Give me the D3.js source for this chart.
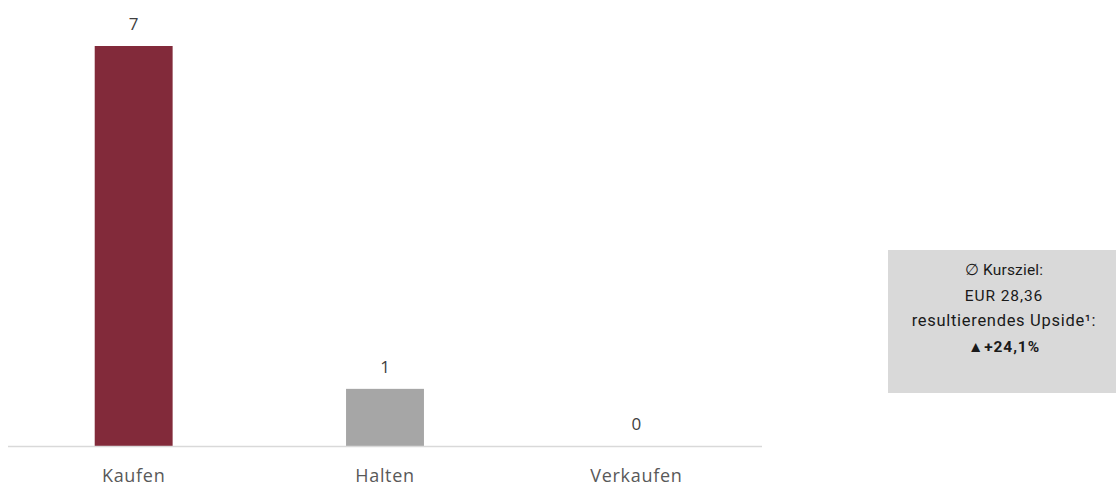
<!DOCTYPE html>
<html>
<head>
<meta charset="utf-8">
<script src="https://cdn.jsdelivr.net/npm/d3@7"></script>
<style>
  body { margin: 0; background: #fff; }
  svg { display: block; }
</style>
</head>
<body>
<div id="chart"></div>
<script>
// chart data
var categories = ["Kaufen", "Halten", "Verkaufen"];
var counts = [7, 1, 0];
var barColors = ["#822a3a", "#a6a6a6", "#a6a6a6"];
var infoLines = ["\u2205 Kursziel:", "EUR 28,36", "resultierendes Upside\u00b9:", "\u25b2+24,1%"];

var W = 1116, H = 487;
var margin = {top: 46, left: 8, right: 354, bottom: 41};
var width = W - margin.left - margin.right,
    height = H - margin.top - margin.bottom;

var svg = d3.select("#chart")
  .append("svg")
    .attr("width", W)
    .attr("height", H);

var g = svg.append("g")
  .attr("transform", "translate(" + margin.left + "," + margin.top + ")");

var x = d3.scaleBand()
  .domain(categories)
  .range([0, width])
  .paddingInner(0.69)
  .paddingOuter(0.345);

var y = d3.scaleLinear()
  .domain([0, 7])
  .range([height, 0]);

// bars
g.selectAll("rect.bar")
  .data(counts)
  .enter()
  .append("rect")
  .attr("class", "bar")
  .attr("x", (d, i) => x(categories[i]))
  .attr("y", d => y(d))
  .attr("width", x.bandwidth())
  .attr("height", d => height - y(d))
  .style("fill", (d, i) => barColors[i]);

// baseline
g.append("line")
  .attr("x1", 0).attr("x2", width)
  .attr("y1", height + 0.5).attr("y2", height + 0.5)
  .style("stroke", "#d9d9d9")
  .style("stroke-width", 1.5);

// value labels
g.selectAll("text.val")
  .data(counts)
  .enter()
  .append("text")
  .attr("class", "val")
  .attr("x", (d, i) => x(categories[i]) + x.bandwidth() / 2)
  .attr("y", d => y(d) - 16)
  .attr("text-anchor", "middle")
  .style("font-family", "'Open Sans', sans-serif")
  .style("font-size", "17px")
  .style("fill", "#404040")
  .text(d => d);

// category labels
var xAxis = g.append("g")
  .attr("transform", "translate(0," + height + ")")
  .call(d3.axisBottom(x).tickSize(0).tickPadding(23));
xAxis.select(".domain").remove();
xAxis.selectAll("text")
  .style("font-family", "'Open Sans', sans-serif")
  .style("font-size", "18px")
  .style("letter-spacing", "0.7px")
  .style("fill", "#595959");

// info box
var box = svg.append("g").attr("transform", "translate(888,250)");
box.append("rect")
  .attr("width", 228)
  .attr("height", 143)
  .style("fill", "#d9d9d9");

box.selectAll("text")
  .data(infoLines)
  .enter()
  .append("text")
  .attr("x", 116)
  .attr("y", (d, i) => 25 + i * 25.7)
  .attr("text-anchor", "middle")
  .style("font-family", "Roboto, 'Liberation Sans', sans-serif")
  .style("font-size", (d, i) => i == 2 ? "16.5px" : "15.5px")
  .style("letter-spacing", (d, i) => i == 2 ? "0.7px" : (i == 1 || i == 3 ? "0.9px" : "0.2px"))
  .style("font-weight", (d, i) => i == 3 ? "bold" : "normal")
  .style("fill", "#1a1a1a")
  .text(d => d);
</script>
</body>
</html>
